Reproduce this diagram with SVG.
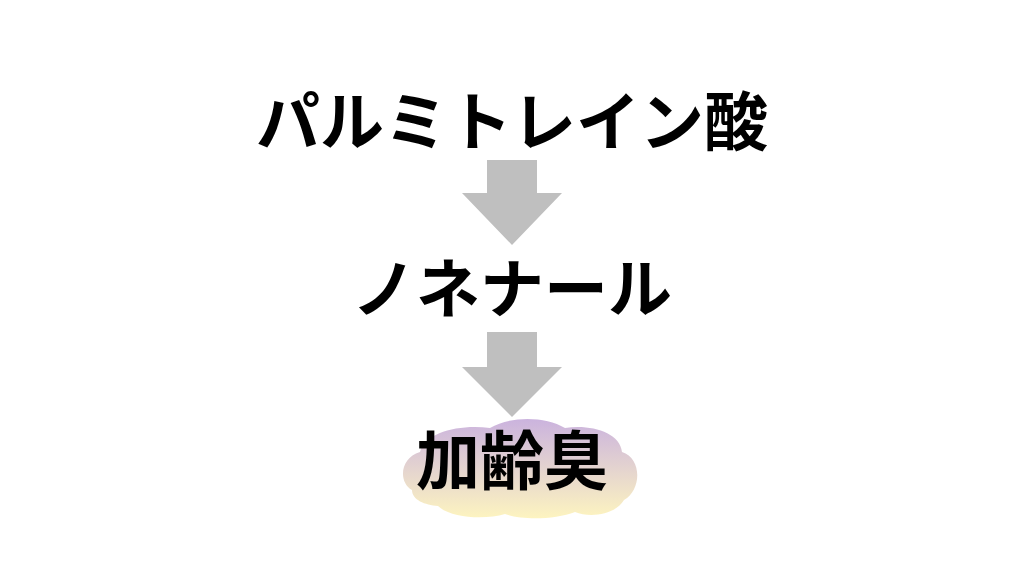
<svg xmlns="http://www.w3.org/2000/svg" width="1024" height="576" viewBox="0 0 1024 576">
<defs>
<style>
.lbl{font-family:"Noto Sans CJK JP","Noto Sans CJK SC",sans-serif;font-weight:700;font-size:64px;fill:#000;text-anchor:middle}
.arrow{fill:#bfbfbf}
</style>
<linearGradient id="cg" x1="0" y1="0" x2="0" y2="1">
<stop offset="0" stop-color="#cbb3de"/>
<stop offset="1" stop-color="#fdf4c0"/>
</linearGradient>
</defs>
<rect width="1024" height="576" fill="#fff"/>
<g id="connectors">
<path class="arrow" d="M487,160 H537 V193 H562 L512,245 L462,193 H487 Z"/>
<path class="arrow" d="M487,332 H537 V367 H562 L512,417 L462,367 H487 Z"/>
</g>
<g id="node-palmitoleic">
<text class="lbl" x="512" y="145">パルミトレイン酸</text>
</g>
<g id="node-nonenal">
<text class="lbl" x="512" y="312">ノネナール</text>
</g>
<g id="node-kareishu">
<path fill="url(#cg)" d="M412,490 C398,482 400,458 420,452 C425,432 460,424 490,428 C510,416 545,416 565,428 C590,424 620,432 622,452 C642,458 642,490 624,500 C615,515 590,518 575,512 C555,520 520,520 505,514 C485,520 450,518 438,506 C425,505 412,500 412,490 Z"/>
<text class="lbl" x="512" y="484">加齢臭</text>
</g>
</svg>
